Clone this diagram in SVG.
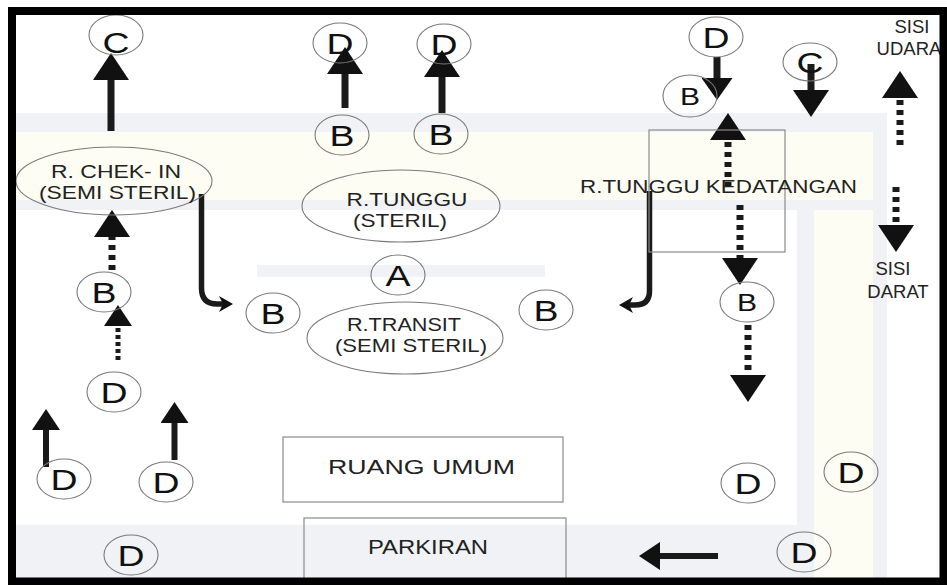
<svg xmlns="http://www.w3.org/2000/svg" width="947" height="585" viewBox="0 0 947 585">
<style>
.wm-g{fill:#f1f2f6}
.wm-c{fill:#fefdf4}
.node{fill:none;stroke:#7a7a7a;stroke-width:1.1}
.box{fill:none;stroke:#8a8a8a;stroke-width:1.2}
.let{font-family:"Liberation Sans",Arial,sans-serif;font-size:30px;fill:#111;text-anchor:middle}
.sm{font-size:24px}
.lbl{font-family:"Liberation Sans",Arial,sans-serif;font-size:18.5px;fill:#222;text-anchor:middle}
.big{font-size:20.5px}
.solid{fill:none;stroke:#1a1a1a;stroke-width:7}
.dot{fill:none;stroke:#1a1a1a;stroke-width:7;stroke-dasharray:5 5}
.dots{fill:none;stroke:#1a1a1a;stroke-width:5;stroke-dasharray:4 3}
.bend{fill:none;stroke:#1a1a1a;stroke-width:5.5}
</style>
<defs>
<marker id="hl" viewBox="0 0 27 36" refX="0" refY="18" markerWidth="27" markerHeight="36" markerUnits="userSpaceOnUse" orient="auto"><path d="M0,0 L27,18 L0,36 Z" fill="#111"/></marker>
<marker id="hm" viewBox="0 0 22 31" refX="0" refY="15.5" markerWidth="22" markerHeight="31" markerUnits="userSpaceOnUse" orient="auto"><path d="M0,0 L22,15.5 L0,31 Z" fill="#111"/></marker>
<marker id="hs" viewBox="0 0 21 28" refX="0" refY="14" markerWidth="21" markerHeight="28" markerUnits="userSpaceOnUse" orient="auto"><path d="M0,0 L21,14 L0,28 Z" fill="#111"/></marker>
<marker id="hc" viewBox="0 0 14 16" refX="4" refY="8" markerWidth="14" markerHeight="16" markerUnits="userSpaceOnUse" orient="auto"><path d="M0,0 L14,8 L0,16 L4,8 Z" fill="#111"/></marker>
</defs>
<rect width="947" height="585" fill="#fff"/>
<g id="watermark">
<rect class="wm-g" x="16" y="113" width="870" height="19"/>
<rect class="wm-c" x="16" y="132" width="857" height="68"/>
<rect class="wm-g" x="16" y="200" width="857" height="10"/>
<rect class="wm-g" x="873" y="113" width="14" height="465"/>
<rect class="wm-g" x="797" y="200" width="17" height="378"/>
<rect class="wm-c" x="814" y="210" width="59" height="368"/>
<rect class="wm-g" x="257" y="265" width="288" height="12"/>
<rect class="wm-g" x="16" y="525" width="781" height="53"/>
</g>
<g id="connectors">
<path class="solid" d="M111,131 V80" marker-end="url(#hl)"/>
<path class="solid" d="M345,108 V74" marker-end="url(#hl)"/>
<path class="solid" d="M442,113 V77" marker-end="url(#hl)"/>
<path class="solid" d="M717,57 V78" marker-end="url(#hm)"/>
<path class="solid" d="M811,64 V90" marker-end="url(#hl)"/>
<path class="dot" d="M112,270 V237" marker-end="url(#hl)"/>
<path class="dots" d="M118,360 V326" marker-end="url(#hs)"/>
<path class="solid" style="stroke-width:6" d="M46,467 V430" marker-end="url(#hs)"/>
<path class="solid" style="stroke-width:6" d="M174.5,460 V423" marker-end="url(#hs)"/>
<path class="solid" style="stroke-width:6" d="M718,556 H660" marker-end="url(#hs)"/>
<path class="bend" d="M201.5,194 V288 Q201.5,304 217,304 H223" marker-end="url(#hc)"/>
<path class="bend" d="M649.5,191 V291 Q649.5,305 635,305 H629" marker-end="url(#hc)"/>
<path class="dot" d="M728,187 V140" marker-end="url(#hl)"/>
<path class="dot" d="M740,205 V258" marker-end="url(#hl)"/>
<path class="dot" d="M748,325 V375" marker-end="url(#hl)"/>
<path class="dot" d="M900,145 V98" marker-end="url(#hl)"/>
<path class="dot" d="M896,187 V225" marker-end="url(#hl)"/>
</g>
<g id="n-c1"><ellipse class="node" cx="116" cy="35" rx="27" ry="20"/><text class="let" x="116" y="53" textLength="27" lengthAdjust="spacingAndGlyphs">C</text></g>
<g id="n-checkin"><ellipse class="node" cx="114" cy="181" rx="98" ry="34"/><text class="lbl" x="116" y="178" textLength="130" lengthAdjust="spacingAndGlyphs">R. CHEK- IN</text><text class="lbl" x="117.5" y="199" textLength="157" lengthAdjust="spacingAndGlyphs">(SEMI STERIL)</text></g>
<g id="n-d1"><ellipse class="node" cx="340" cy="43" rx="27" ry="20"/><text class="let" x="340" y="54" textLength="27" lengthAdjust="spacingAndGlyphs">D</text></g>
<g id="n-d2"><ellipse class="node" cx="444" cy="44" rx="27" ry="20"/><text class="let" x="444" y="55" textLength="27" lengthAdjust="spacingAndGlyphs">D</text></g>
<g id="n-b1"><ellipse class="node" cx="342" cy="135" rx="27" ry="20"/><text class="let" x="342" y="146" textLength="25" lengthAdjust="spacingAndGlyphs">B</text></g>
<g id="n-b2"><ellipse class="node" cx="441" cy="134" rx="27" ry="20"/><text class="let" x="441" y="145" textLength="25" lengthAdjust="spacingAndGlyphs">B</text></g>
<g id="n-tunggu"><ellipse class="node" cx="401" cy="206" rx="99" ry="36"/><text class="lbl" x="407" y="206" textLength="121" lengthAdjust="spacingAndGlyphs">R.TUNGGU</text><text class="lbl" x="400" y="227" textLength="94" lengthAdjust="spacingAndGlyphs">(STERIL)</text></g>
<g id="n-a"><ellipse class="node" cx="398" cy="275" rx="27" ry="20"/><text class="let" x="398" y="286" textLength="25" lengthAdjust="spacingAndGlyphs">A</text></g>
<g id="n-transit"><ellipse class="node" cx="405" cy="338" rx="98" ry="36"/><text class="lbl" x="404" y="331" textLength="114" lengthAdjust="spacingAndGlyphs">R.TRANSIT</text><text class="lbl" x="411" y="352" textLength="152" lengthAdjust="spacingAndGlyphs">(SEMI STERIL)</text></g>
<g id="n-b3"><ellipse class="node" cx="273" cy="313" rx="27" ry="20"/><text class="let" x="273" y="324" textLength="25" lengthAdjust="spacingAndGlyphs">B</text></g>
<g id="n-b4"><ellipse class="node" cx="546" cy="310" rx="27" ry="20"/><text class="let" x="546" y="321" textLength="25" lengthAdjust="spacingAndGlyphs">B</text></g>
<g id="n-b5"><ellipse class="node" cx="104" cy="292" rx="27" ry="20"/><text class="let" x="104" y="303" textLength="25" lengthAdjust="spacingAndGlyphs">B</text></g>
<g id="n-d3"><ellipse class="node" cx="114" cy="392" rx="27" ry="20"/><text class="let" x="114" y="403" textLength="27" lengthAdjust="spacingAndGlyphs">D</text></g>
<g id="n-d4"><ellipse class="node" cx="64" cy="479" rx="27" ry="20"/><text class="let" x="64" y="490" textLength="27" lengthAdjust="spacingAndGlyphs">D</text></g>
<g id="n-d5"><ellipse class="node" cx="166" cy="482" rx="27" ry="20"/><text class="let" x="166" y="493" textLength="27" lengthAdjust="spacingAndGlyphs">D</text></g>
<g id="n-d6"><ellipse class="node" cx="131" cy="555" rx="27" ry="20"/><text class="let" x="131" y="566" textLength="27" lengthAdjust="spacingAndGlyphs">D</text></g>
<g id="n-umum"><rect class="box" x="283" y="437" width="280" height="65"/><text class="lbl big" x="421.5" y="474" textLength="187" lengthAdjust="spacingAndGlyphs">RUANG UMUM</text></g>
<g id="n-parkir"><rect class="box" x="304" y="518" width="262" height="70"/><text class="lbl big" x="428" y="554" textLength="120" lengthAdjust="spacingAndGlyphs">PARKIRAN</text></g>
<g id="n-kedatangan"><rect class="box" x="649" y="130" width="136" height="122"/><text class="lbl" x="580" y="193" style="text-anchor:start" textLength="277" lengthAdjust="spacingAndGlyphs">R.TUNGGU KEDATANGAN</text></g>
<g id="n-d7"><ellipse class="node" cx="716" cy="37" rx="27" ry="20"/><text class="let" x="716" y="48" textLength="27" lengthAdjust="spacingAndGlyphs">D</text></g>
<g id="n-b6"><ellipse class="node" cx="690" cy="96" rx="27" ry="21"/><text class="let sm" x="690" y="105" textLength="20" lengthAdjust="spacingAndGlyphs">B</text></g>
<g id="n-c2"><ellipse class="node" cx="810" cy="62" rx="27" ry="19"/><text class="let" x="810" y="73" textLength="27" lengthAdjust="spacingAndGlyphs">C</text></g>
<g id="n-b7"><ellipse class="node" cx="747" cy="302" rx="27" ry="20"/><text class="let sm" x="747" y="311" textLength="20" lengthAdjust="spacingAndGlyphs">B</text></g>
<g id="n-d8"><ellipse class="node" cx="748" cy="483" rx="27" ry="20"/><text class="let" x="748" y="494" textLength="27" lengthAdjust="spacingAndGlyphs">D</text></g>
<g id="n-d9"><ellipse class="node" cx="851" cy="472" rx="27" ry="20"/><text class="let" x="851" y="483" textLength="27" lengthAdjust="spacingAndGlyphs">D</text></g>
<g id="n-d10"><ellipse class="node" cx="804" cy="552" rx="27" ry="20"/><text class="let" x="804" y="563" textLength="27" lengthAdjust="spacingAndGlyphs">D</text></g>
<g id="n-udara"><text class="lbl" x="912" y="33">SISI</text><text class="lbl" x="909" y="55">UDARA</text></g>
<g id="n-darat"><text class="lbl" x="893" y="275">SISI</text><text class="lbl" x="898" y="298">DARAT</text></g>
<rect id="frame" x="12" y="11" width="931.5" height="570.5" fill="none" stroke="#000" stroke-width="8"/>
</svg>
